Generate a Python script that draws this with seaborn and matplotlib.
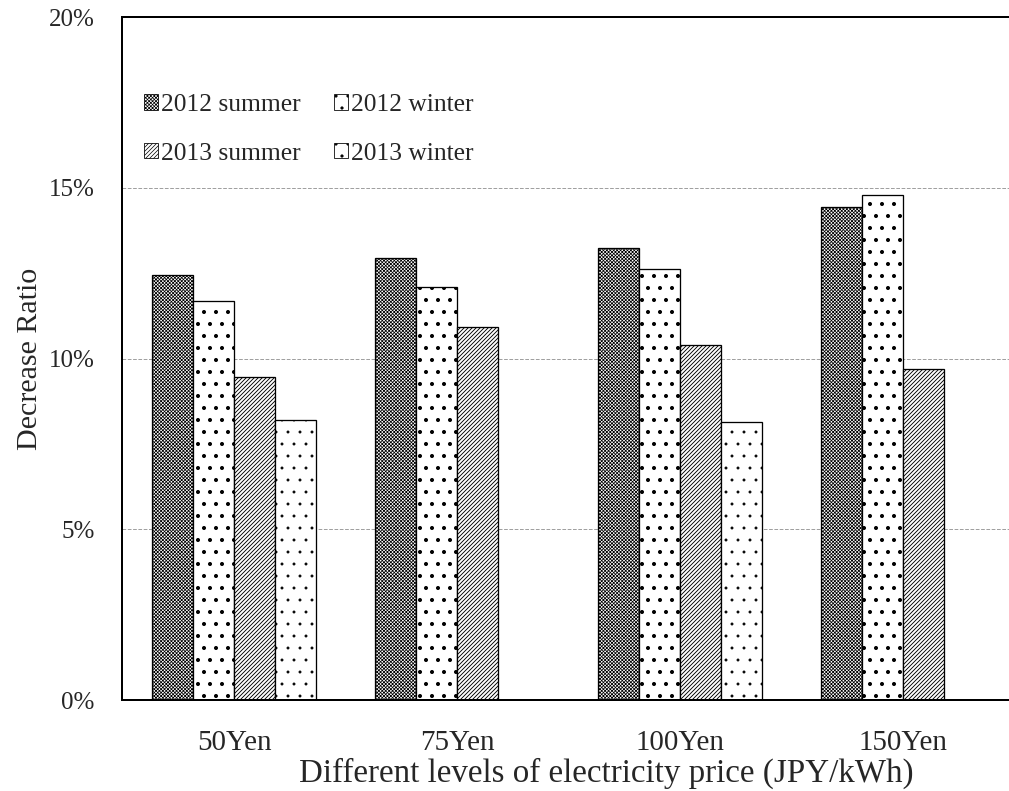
import numpy as np
import pandas as pd
import matplotlib
matplotlib.use("Agg")
import matplotlib.pyplot as plt
import matplotlib.patches as mpatches
from matplotlib.ticker import PercentFormatter
import seaborn as sns

# dati
prezzi = ["50Yen", "75Yen", "100Yen", "150Yen"]
stagioni = ["2012 summer", "2012 winter", "2013 summer", "2013 winter"]
estate_2012 = [0.1245, 0.1295, 0.1325, 0.1443]
inverno_2012 = [0.1167, 0.1208, 0.1262, 0.1478]
estate_2013 = [0.0947, 0.1093, 0.1040, 0.0970]
inverno_2013 = [0.0820, np.nan, 0.0815, np.nan]

valori = [estate_2012, inverno_2012, estate_2013, inverno_2013]
righe = []
for s, v in zip(stagioni, valori):
    for p, x in zip(prezzi, v):
        righe.append({"Prezzo": p, "Stagione": s, "Riduzione": x})
df = pd.DataFrame(righe)

tratteggi = ["xxxxxxx", ".", "//////", "."]
spessori_tratteggio = [0.75, 1.6, 0.9, 0.4]

sns.set_style("white")
plt.rcParams["font.family"] = ["Liberation Serif", "DejaVu Serif"]
plt.rcParams["hatch.linewidth"] = 0.7
plt.rcParams["hatch.color"] = "black"

DPI = 72
fig = plt.figure(figsize=(1009 / DPI, 791 / DPI), dpi=DPI)
ax = fig.add_axes([0.1214, 0.115, 0.884, 0.8635])

sns.barplot(data=df, x="Prezzo", y="Riduzione", hue="Stagione", order=prezzi,
            hue_order=stagioni, palette=["white"] * 4, width=0.735,
            edgecolor="black", linewidth=1.3, legend=False, ax=ax)

for cont, h, lw in zip(ax.containers, tratteggi, spessori_tratteggio):
    for b in cont:
        b.set_hatch(h)
        b.set_edgecolor("black")
        if hasattr(b, "set_hatch_linewidth"):
            b.set_hatch_linewidth(lw)

ax.set_xlim(-0.5, 3.5)
ax.set_ylim(0, 0.20)
ax.set_yticks([0, 0.05, 0.10, 0.15, 0.20])
ax.yaxis.set_major_formatter(PercentFormatter(1.0, decimals=0))
ax.grid(axis="y", linestyle="--", color="#a0a0a0", linewidth=1.0)
ax.set_axisbelow(True)

for lato in ["left", "bottom", "top"]:
    ax.spines[lato].set_linewidth(2)
    ax.spines[lato].set_color("black")
ax.spines["right"].set_visible(False)

ax.tick_params(axis="y", direction="in", length=4, width=1, labelsize=25, pad=28)
ax.tick_params(axis="x", length=0, labelsize=29, pad=30)
ax.set_xlabel("Different levels of electricity price (JPY/kWh)", fontsize=33, va="center")
ax.xaxis.set_label_coords(0.542, -0.107)
ax.set_ylabel("Decrease Ratio", fontsize=30, labelpad=6)

# legenda: righe 2012 / 2013 (matplotlib riempie per colonna)
ordine = [0, 2, 1, 3]
maniglie = []
for i in ordine:
    p = mpatches.Patch(facecolor="white", edgecolor="black", hatch=tratteggi[i],
                       label=stagioni[i], linewidth=0.8)
    if hasattr(p, "set_hatch_linewidth"):
        p.set_hatch_linewidth(spessori_tratteggio[i])
    maniglie.append(p)
ax.legend(handles=maniglie, ncol=2, loc="upper left", bbox_to_anchor=(-0.002, 0.921),
          frameon=False, fontsize=25.5, handlelength=0.55, handleheight=0.55,
          handletextpad=0.12, columnspacing=1.3, labelspacing=1.05)

plt.savefig("out.png", dpi=DPI)
